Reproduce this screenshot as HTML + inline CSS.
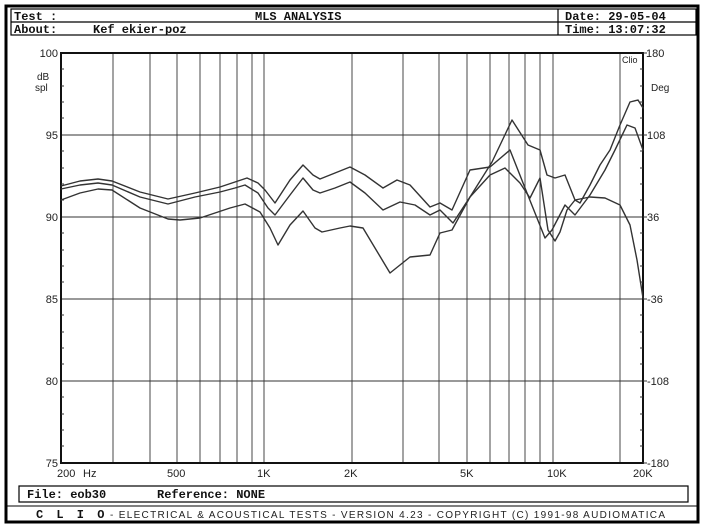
<!DOCTYPE html>
<html><head><meta charset="utf-8"><style>
body{margin:0;background:#fff;}
svg{display:block;}
text{font-family:"Liberation Sans",sans-serif;fill:#222;}
.m{font-family:"Liberation Mono",monospace;font-weight:bold;font-size:12px;fill:#111;}
</style></head><body>
<svg width="704" height="528" viewBox="0 0 704 528" xmlns="http://www.w3.org/2000/svg">
<rect x="0" y="0" width="704" height="528" fill="#fff"/>
<rect x="6" y="6" width="692" height="516" fill="none" stroke="#000" stroke-width="3"/>
<rect x="11" y="9" width="685" height="26" fill="none" stroke="#000" stroke-width="1.2"/>
<line x1="11" y1="22" x2="696" y2="22" stroke="#000" stroke-width="1.2"/>
<line x1="558" y1="9" x2="558" y2="35" stroke="#000" stroke-width="1.2"/>
<text class="m" x="14" y="20">Test :</text>
<text class="m" x="255" y="20">MLS ANALYSIS</text>
<text class="m" x="565" y="20">Date: 29-05-04</text>
<text class="m" x="14" y="33">About:</text>
<text class="m" x="93" y="33">Kef ekier-poz</text>
<text class="m" x="565" y="33">Time: 13:07:32</text>
<g stroke="#333" stroke-width="0.9">
<line x1="113" y1="53" x2="113" y2="463"/><line x1="150" y1="53" x2="150" y2="463"/>
<line x1="177" y1="53" x2="177" y2="463"/><line x1="200" y1="53" x2="200" y2="463"/>
<line x1="220" y1="53" x2="220" y2="463"/><line x1="237" y1="53" x2="237" y2="463"/>
<line x1="252" y1="53" x2="252" y2="463"/><line x1="264" y1="53" x2="264" y2="463"/>
<line x1="352" y1="53" x2="352" y2="463"/><line x1="403" y1="53" x2="403" y2="463"/>
<line x1="439" y1="53" x2="439" y2="463"/><line x1="467" y1="53" x2="467" y2="463"/>
<line x1="490" y1="53" x2="490" y2="463"/><line x1="509" y1="53" x2="509" y2="463"/>
<line x1="525" y1="53" x2="525" y2="463"/><line x1="540" y1="53" x2="540" y2="463"/>
<line x1="553" y1="53" x2="553" y2="463"/><line x1="620" y1="53" x2="620" y2="463"/>
<line x1="61" y1="135" x2="643" y2="135"/><line x1="61" y1="217" x2="643" y2="217"/>
<line x1="61" y1="299" x2="643" y2="299"/><line x1="61" y1="381" x2="643" y2="381"/>
</g>
<rect x="61" y="53" width="582" height="410" fill="none" stroke="#111" stroke-width="2"/>
<g stroke="#333" stroke-width="1">
<path d="M61 69h3M61 86h3M61 102h3M61 118h3M61 151h3M61 168h3M61 184h3M61 200h3M61 233h3M61 250h3M61 266h3M61 282h3M61 315h3M61 332h3M61 348h3M61 364h3M61 397h3M61 414h3M61 430h3M61 446h3"/>
<path d="M643 69h-3M643 86h-3M643 102h-3M643 118h-3M643 151h-3M643 168h-3M643 184h-3M643 200h-3M643 233h-3M643 250h-3M643 266h-3M643 282h-3M643 315h-3M643 332h-3M643 348h-3M643 364h-3M643 397h-3M643 414h-3M643 430h-3M643 446h-3"/>
<path d="M643 135h4M643 217h4M643 299h4M643 381h4M643 463h4M643 53h4"/>
</g>
<g>
<text x="58" y="57" text-anchor="end" font-size="11">100</text>
<text x="58" y="139" text-anchor="end" font-size="11">95</text>
<text x="58" y="221" text-anchor="end" font-size="11">90</text>
<text x="58" y="303" text-anchor="end" font-size="11">85</text>
<text x="58" y="385" text-anchor="end" font-size="11">80</text>
<text x="58" y="467" text-anchor="end" font-size="11">75</text>
<text x="37" y="80" font-size="10">dB</text>
<text x="35" y="91" font-size="10">spl</text>
<text x="646" y="57" font-size="11">180</text>
<text x="651" y="91" font-size="10">Deg</text>
<text x="647" y="139" font-size="11">108</text>
<text x="647" y="221" font-size="11">36</text>
<text x="647" y="303" font-size="11">-36</text>
<text x="647" y="385" font-size="11">-108</text>
<text x="647" y="467" font-size="11">-180</text>
<text x="622" y="63" font-size="9">Clio</text>
<text x="57" y="477" font-size="11">200</text>
<text x="83" y="477" font-size="11">Hz</text>
<text x="167" y="477" font-size="11">500</text>
<text x="257" y="477" font-size="11">1K</text>
<text x="344" y="477" font-size="11">2K</text>
<text x="460" y="477" font-size="11">5K</text>
<text x="547" y="477" font-size="11">10K</text>
<text x="633" y="477" font-size="11">20K</text>
</g>
<g fill="none" stroke="#333" stroke-width="1.4" stroke-linejoin="round" stroke-linecap="round">
<polyline points="61,186 80,181 98,179 112,181 140,192 168,199 195,193 220,187 235,182 247,178 258,183 265,190 275,203 290,180 303,165 313,175 320,179 330,175 350,167 365,175 383,188 397,180 410,185 430,207 440,203 452,210 470,170 490,167 510,150 527,193 545,238 552,230 565,205 575,215 590,195 605,170 615,150 627,125 635,128 643,150"/>
<polyline points="61,189 80,185 98,183 112,185 140,197 168,204 195,197 220,192 235,188 245,185 258,193 268,208 275,215 290,195 303,178 313,190 320,193 335,188 350,182 365,193 383,210 400,202 415,205 430,215 440,210 453,223 470,197 492,162 512,120 528,145 540,150 547,175 555,178 565,175 575,200 580,203 590,185 600,165 610,150 620,125 630,102 638,100 643,108"/>
<polyline points="61,200 80,193 98,189 112,190 140,208 168,219 180,220 200,218 230,208 245,204 260,212 270,228 278,245 290,225 303,211 315,228 322,232 340,228 350,226 363,228 390,273 410,257 430,255 440,233 452,230 470,197 490,175 505,168 520,183 530,198 540,178 548,230 555,241 560,232 567,210 575,200 590,197 605,198 620,205 630,225 637,260 643,298"/>
</g>
<rect x="19" y="486" width="669" height="16" fill="none" stroke="#000" stroke-width="1.2"/>
<text class="m" x="27" y="498">File: eob30</text>
<text class="m" x="157" y="498">Reference: NONE</text>
<line x1="7" y1="506" x2="697" y2="506" stroke="#000" stroke-width="1"/>
<text class="m" x="36" y="518" font-size="11" letter-spacing="3">C L I O</text>
<text x="110" y="518" font-size="10" textLength="555" lengthAdjust="spacing">-   ELECTRICAL &amp; ACOUSTICAL TESTS   -   VERSION 4.23   -   COPYRIGHT (C) 1991-98 AUDIOMATICA</text>
</svg>
</body></html>
